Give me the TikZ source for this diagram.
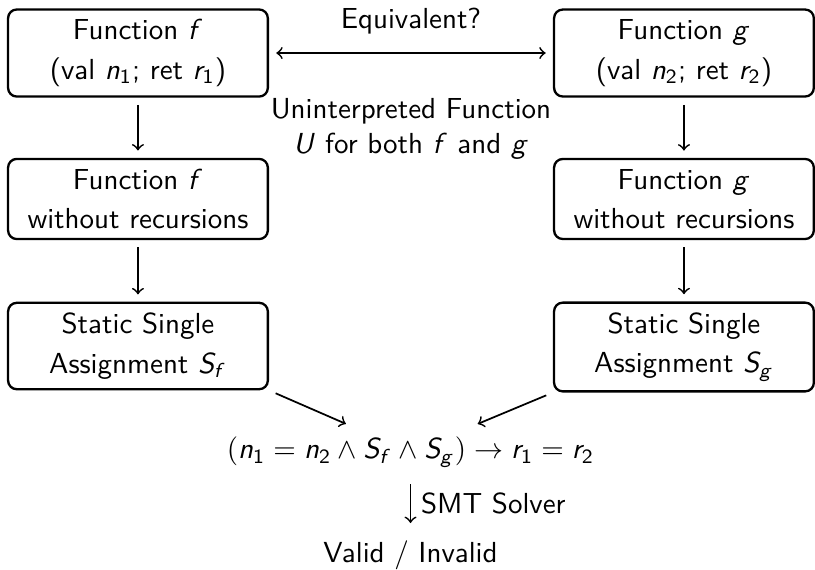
\documentclass[tikz,border=0pt]{standalone}
\renewcommand{\familydefault}{\sfdefault}
% sans serif letters in math
\DeclareSymbolFont{sfletters}{OT1}{cmss}{m}{sl}
\DeclareSymbolFont{sfdigits}{OT1}{cmss}{m}{n}
\DeclareMathSymbol{f}{\mathalpha}{sfletters}{`f}
\DeclareMathSymbol{g}{\mathalpha}{sfletters}{`g}
\DeclareMathSymbol{n}{\mathalpha}{sfletters}{`n}
\DeclareMathSymbol{r}{\mathalpha}{sfletters}{`r}
\DeclareMathSymbol{S}{\mathalpha}{sfletters}{`S}
\DeclareMathSymbol{U}{\mathalpha}{sfletters}{`U}
\DeclareMathSymbol{1}{\mathalpha}{sfdigits}{`1}
\DeclareMathSymbol{2}{\mathalpha}{sfdigits}{`2}

\begin{document}
\begin{tikzpicture}[block/.style={draw,thick,rounded corners=3pt,minimum width=3.15cm,align=center,inner sep=3.5pt,font=\fontsize{10}{13.6}\selectfont},
                    arr/.style={->,semithick,shorten >=2.5pt,shorten <=2.5pt}]
       \useasboundingbox (0,0) rectangle (9.883,-6.900);

       \node[block] (funf) at (1.673,-0.643) {Function $f$\\(val $n_1$; ret $r_1$)};
       \node[block] (fung) at (8.294,-0.643) {Function $g$\\(val $n_2$; ret $r_2$)};
       \node[block] (norecf) at (1.673,-2.413) {Function $f$\\without recursions};
       \node[block] (norecg) at (8.294,-2.413) {Function $g$\\without recursions};
       \node[block] (ssaf) at (1.673,-4.196) {Static Single\\Assignment $S_f$};
       \node[block] (ssag) at (8.294,-4.208) {Static Single\\Assignment $S_g$};
       \node (form) at (4.978,-5.481) {$(n_1 = n_2 \land S_f \land S_g) \rightarrow r_1 = r_2$};
       \node (res) at (4.978,-6.730) {Valid / Invalid};

       \draw[arr,<->] (funf) -- (fung) node[midway, above=3pt] {Equivalent?}
           node[midway, below=12pt, align=center] {Uninterpreted Function\\$U$ for both $f$ and $g$};
       \draw[arr] (funf) -- (norecf);
       \draw[arr] (fung) -- (norecg);
       \draw[arr] (norecf) -- (ssaf);
       \draw[arr] (norecg) -- (ssag);
       \draw[arr] (ssaf.south east) -- (form);
       \draw[arr] (ssag.south west) -- (form);
       \draw[arr] (form) -- (res) node[midway, right] {SMT Solver};
     \end{tikzpicture}
\end{document}
